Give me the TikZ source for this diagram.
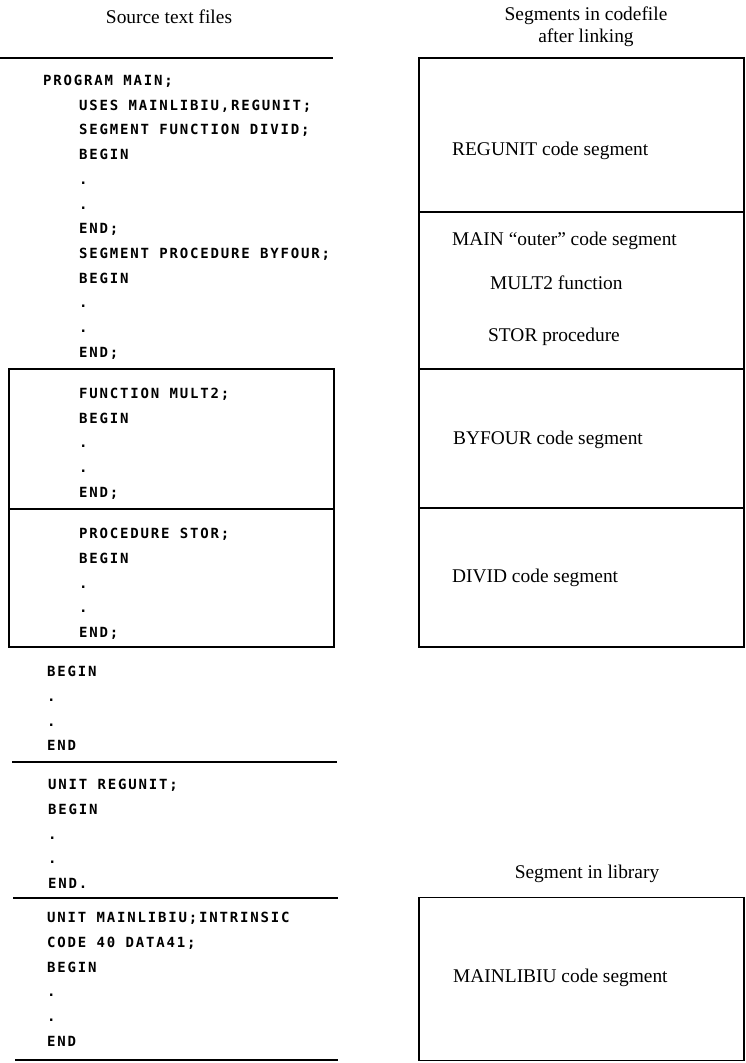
\documentclass[tikz,border=0pt]{standalone}
\usepackage{fontspec}
\setmainfont{Liberation Serif}
\newfontfamily\codefont{DejaVu Sans Mono Bold}[LetterSpace=13]
\usepackage{tikz}
\usetikzlibrary{positioning}
\newcommand{\ind}{\hspace*{36pt}}

\begin{document}
\begin{tikzpicture}[x=1pt, y=-1pt,
  code/.style={anchor=north west, inner sep=0pt, align=left,
               font=\codefont\fontsize{14pt}{24.7pt}\selectfont},
  lbl/.style={inner sep=0pt, font=\fontsize{19.4pt}{22pt}\selectfont},
  segbox/.style={draw, line width=1.7pt, outer sep=0pt, inner sep=0pt,
                 minimum width=325pt},
  rule/.style={line width=2.8pt},
  frame/.style={line width=1.5pt}]
\useasboundingbox (0,0) rectangle (746,1063);
% titles
\node[lbl] (srctitle) at (169,17) {Source text files};
\node[lbl, align=center] (segtitle) at (586,27) {Segments in codefile\\after linking};
\node[lbl] (libtitle) at (587,874) {Segment in library};
% source text files
\draw[rule] (0,58) -- (333,58);
\node[code] (prog) at (43,75) {PROGRAM MAIN;\\
  \ind USES MAINLIBIU,REGUNIT;\\
  \ind SEGMENT FUNCTION DIVID;\\
  \ind BEGIN\\ \ind .\\ \ind .\\ \ind END;\\
  \ind SEGMENT PROCEDURE BYFOUR;\\
  \ind BEGIN\\ \ind .\\ \ind .\\ \ind END;};
\draw[frame] (9,369) rectangle (334,647);
\draw[frame] (9,509) -- (334,509);
\node[code] (mult) at (79,388) {FUNCTION MULT2;\\ BEGIN\\ .\\ .\\ END;};
\node[code] (stor) at (79,528) {PROCEDURE STOR;\\ BEGIN\\ .\\ .\\ END;};
\node[code] (body) at (47,666) {BEGIN\\ .\\ .\\ END};
\draw[rule] (12,762) -- (337,762);
\node[code] (regunit) at (48,779) {UNIT REGUNIT;\\ BEGIN\\ .\\ .\\ END.};
\draw[rule] (13,898) -- (338,898);
\node[code] (mainlib) at (47,912) {UNIT MAINLIBIU;INTRINSIC\\ CODE 40 DATA41;\\ BEGIN\\ .\\ .\\ END};
\draw[rule] (15,1060) -- (338,1060);
% segments in codefile
\node[segbox, minimum height=154pt] (regbox) at (581.5,135) {};
\node[segbox, minimum height=157pt, below=0pt of regbox] (mainbox) {};
\node[segbox, minimum height=139pt, below=0pt of mainbox] (byfbox) {};
\node[segbox, minimum height=139pt, below=0pt of byfbox] (divbox) {};
\node[lbl, anchor=mid west] (reglbl) at (452,153) {REGUNIT code segment};
\node[lbl, anchor=mid west] (mainlbl) at (452,243) {MAIN “outer” code segment};
\node[lbl, anchor=mid west] (multlbl) at (490,287) {MULT2 function};
\node[lbl, anchor=mid west] (storlbl) at (488,339) {STOR procedure};
\node[lbl, anchor=mid west] (byflbl) at (453,442) {BYFOUR code segment};
\node[lbl, anchor=mid west] (divlbl) at (452,580) {DIVID code segment};
% segment in library
\node[segbox, minimum height=163pt] (libbox) at (581.5,979) {};
\node[lbl, anchor=mid west] (liblbl) at (453,980) {MAINLIBIU code segment};
\end{tikzpicture}
\end{document}
